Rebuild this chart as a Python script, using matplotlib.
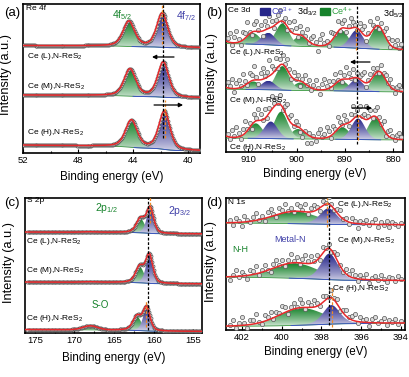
import numpy as np
import matplotlib
matplotlib.use("Agg")
import matplotlib.pyplot as plt
from matplotlib.colors import LinearSegmentedColormap
from matplotlib.patches import Polygon

plt.rcParams['font.family'] = ['Liberation Sans', 'DejaVu Sans']
plt.rcParams['mathtext.fontset'] = 'custom'
plt.rcParams['mathtext.rm'] = 'Liberation Sans'
plt.rcParams['mathtext.it'] = 'Liberation Sans:italic'

W, H = 410, 377
GREEN = '#17832c'
BLUE = '#26268a'
RED = '#e8282b'
ORANGE = '#f08a24'

samples = ["Ce (L),N-ReS$_2$", "Ce (M),N-ReS$_2$", "Ce (H),N-ReS$_2$"]

# ---- (a) Re 4f : intensities in arbitrary (pixel-like) units ----
re_c52 = [44.30, 44.22, 44.12]
re_c72 = [41.88, 41.80, 41.72]
re_h52 = [25, 27, 27]
re_h72 = [34, 35, 38]
re_bg_hi = [107.5, 58, 8]
re_bg_lo = [105, 55, 2]

# ---- (b) Ce 3d : peak centres / heights per sample, kind g=Ce4+, b=Ce3+ ----
ce_kind = ['g', 'b', 'g', 'g', 'g', 'b', 'g', 'g']
ce_centres = [[883.2, 887.6, 890.7, 899.2, 902.9, 905.8, 908.9, 916.8],
              [883.0, 887.6, 890.7, 899.2, 902.9, 905.8, 908.9, 916.8],
              [883.8, 887.3, 890.5, 899.7, 903.2, 905.3, 908.4, 916.8]]
ce_heights = [[23, 18, 17, 10, 22, 12, 11, 8],
              [20, 12, 10, 8, 24, 9, 8, 6],
              [22, 21, 12, 10, 27, 17, 15, 6]]
ce_bg_hi = [109, 63, 14]
ce_bg_lo = [102, 60, 12]
ce_noise = [
    [4, 9, -2, 6, 12, 3, -4, 8, 5, 14, 2, -3, 7, 10, 1, 6, -5, 9, 3, 12,
     6, -2, 4, 8, 11, 0, 5, -4, 7, 2, 13, 6, -3, 9, 4, 1, 10, -2, 5, 8,
     3, -6, 7, 12, 2, 4, -3, 9, 6, 1, 11, -1, 5, 8, -4, 3, 10, 6, 2, -2,
     7, 4, 9, -5, 3, 12, 5, 0, 8, -3, 6, 2, 10, 4, -2, 7, 3, 9, 1, 5],
    [6, 2, 10, -3, 5, 8, 1, 12, 4, -2, 9, 6, 14, 3, -4, 7, 11, 2, 5, 16,
     8, 3, 12, -1, 6, 9, 2, 10, 4, -3, 7, 1, 5, -5, 3, 8, 0, 6, -2, 4,
     9, 2, -4, 6, 11, 3, 7, -1, 5, 10, 2, 8, -3, 4, 12, 6, 1, 9, -2, 5,
     3, 7, 10, -4, 2, 6, 9, 1, 4, -2, 8, 3, 5, 0, 7, 2, -3, 4, 6, 1],
    [3, -2, 7, 1, 10, 4, -3, 6, 12, 2, 5, -4, 8, 3, 11, 6, 0, 9, -2, 5,
     14, 4, 7, 1, 10, -3, 6, 12, 3, 8, -1, 5, 2, -4, -7, 1, -9, 3, -6, 2,
     -3, 5, 9, 1, 4, 11, 6, -2, 8, 3, 12, 5, 0, 9, 4, -3, 7, 13, 2, 6,
     10, 1, 5, 14, 3, 8, -2, 6, 11, 4, 1, 9, -3, 5, 7, 2, -1, 4, 6, 2]]

# ---- (c) S 2p ----
s_c32 = [160.45, 160.55, 160.90]
s_c12 = [161.65, 161.75, 162.10]
s_h32 = [25, 28, 23]
s_h12 = [14, 16, 14]
s_so_h = [0.5, 0.5, 4]
s_bg_hi = [101, 51, 3.5]
s_bg_lo = [99, 49, 1.5]

# ---- (d) N 1s ----
n_c_mn = [397.65, 397.60, 397.50]
n_c_nh = [399.3, 399.3, 399.0]
n_h_mn = [16, 26, 19]
n_h_nh = [12, 15, 17]
n_bg_hi = [107, 53, 3.5]
n_bg_lo = [105, 49, 7]
n_noise = [
    [3, -2, 5, 1, -4, 6, 2, -1, 4, 7, 0, 3, -3, 5, 8, 2, -2, 6, 3, 9,
     1, 4, -1, 7, 5, 2, 8, -2, 4, 6, 3, -3, 5, 1, 7, 2, -1, 4, 6, 0,
     3, -2, 5, 2, -4, 3, 1, 4, -1, 2, 5, -3, 2, 0, 4, -2, 3, 1, -1, 2],
    [-3, 2, 6, -1, 4, 1, -4, 5, 3, 8, -2, 2, 6, 0, -3, 4, 7, 1, 5, -2,
     3, 9, 2, 6, -1, 4, 8, 3, 7, 1, 5, -3, 6, 2, 4, -2, 3, 6, 1, -1,
     5, 2, 7, 3, -2, 4, 1, 6, -3, 2, 4, 0, 5, 1, -2, 3, 2, -1, 4, 1],
    [1, 6, -2, 3, 8, 2, -3, 5, 4, 9, 1, -2, 6, 3, 7, -1, 4, 2, 8, 5,
     -3, 3, 6, 1, 9, 4, -2, 5, 2, 7, 3, -1, 6, 4, 1, 8, 2, 5, -2, 3,
     6, 1, 4, 7, -1, 5, 2, 3, -3, 4, 6, 0, 2, 5, -2, 3, 1, 4, -1, 2]]


def pv(x, c, h, w, eta):
    g = np.exp(-4 * np.log(2) * ((x - c) / w) ** 2)
    l = 1 / (1 + 4 * ((x - c) / w) ** 2)
    return h * (eta * l + (1 - eta) * g)


def background(x, total, lo, hi, mix=0.6):
    cum = np.cumsum(total)
    cum = cum / cum[-1]
    lin = (x - x[0]) / (x[-1] - x[0])
    return lo + (hi - lo) * (mix * cum + (1 - mix) * lin)


def grad_fill(ax, x, lo, hi, color):
    m = (hi - lo) > 0.05
    if m.sum() < 3:
        return
    xs, l, h = x[m], lo[m], hi[m]
    cmap = LinearSegmentedColormap.from_list('gf', ['#ffffff', color])
    poly = Polygon(np.column_stack([np.r_[xs, xs[::-1]], np.r_[h, l[::-1]]]),
                   closed=True, fc='none', ec='none')
    ax.add_patch(poly)
    grad = np.linspace(0.1, 1, 64).reshape(-1, 1) ** 0.7
    im = ax.imshow(grad, cmap=cmap, vmin=0, vmax=1, origin='lower', aspect='auto',
                   extent=[xs.min(), xs.max(), l.min(), h.max()], zorder=2,
                   interpolation='bilinear')
    im.set_clip_path(poly)


def spectrum(ax, x, comps, lo, hi, px, noise=None, ms=2.6):
    """comps: list of (centre, height, fwhm, eta, colour)"""
    parts = [pv(x, *c[:4]) for c in comps]
    total = np.sum(parts, axis=0)
    bg = background(x, total, lo, hi)
    for p, c in zip(parts, comps):
        grad_fill(ax, x, bg, bg + p, c[4])
    ax.plot(x, bg, color='#3a9a40', lw=0.6, zorder=3)
    for p, c in zip(parts, comps):
        if c[4] == BLUE:
            m = p > 0.02 * c[1]
            ax.plot(x[m], bg[m], color='#3a4ad0', lw=0.6, zorder=3)
    env = bg + total
    ypts = np.interp(px, x, env)
    if noise is not None:
        ypts = ypts + np.asarray(noise, float)
    ax.plot(px, ypts, 'o', ms=ms, mfc='#dcdcdc', mec='#555555', mew=0.5, zorder=4)
    ax.plot(x, env, color=RED, lw=1.1, zorder=5)


fig = plt.figure(figsize=(W / 100, H / 100), dpi=100)


def add_axes(l, t, r, b):
    return fig.add_axes([l / W, 1 - b / H, (r - l) / W, (b - t) / H])


def ftext(x, y, s, **kw):
    kw.setdefault('fontsize', 6)
    kw.setdefault('va', 'center')
    fig.text(x / W, 1 - y / H, s, **kw)


def style(ax, major, minor, ylab_x, xlab_y, ylab_y=0.5):
    ax.set_yticks([])
    ax.xaxis.set_major_locator(plt.MultipleLocator(major))
    ax.xaxis.set_minor_locator(plt.MultipleLocator(minor))
    ax.tick_params(axis='x', which='both', direction='in', labelsize=6.8, pad=2.5, width=0.8)
    ax.tick_params(axis='x', which='major', length=3)
    ax.tick_params(axis='x', which='minor', length=1.8)
    for s in ax.spines.values():
        s.set_linewidth(1.2)
    ax.set_xlabel('Binding energy (eV)', fontsize=8.4)
    ax.set_ylabel('Intensity (a.u.)', fontsize=9.2)
    ax.yaxis.set_label_coords(ylab_x, ylab_y)
    ax.xaxis.set_label_coords(0.5, xlab_y)
    ax.xaxis.label.set_va('center')


def vdash(ax, e, y0, y1, color):
    ax.plot([e, e], [y0, y1], color=color, lw=0.9, ls=(0, (2.2, 1.4)), zorder=6)


def arrow(ax, e0, e1, y):
    ax.annotate('', xy=(e1, y), xytext=(e0, y),
                arrowprops=dict(arrowstyle='-|>', color='k', lw=0.9,
                                mutation_scale=6, shrinkA=0, shrinkB=0), zorder=7)


# ---------------- (a) ----------------
axa = add_axes(23, 4, 200, 153)
xa = np.linspace(38.5, 52.5, 900)
pa = np.arange(39.05, 52.0, 0.07)
for i in range(3):
    comps = [(re_c52[i], re_h52[i], 1.0, 0.45, GREEN),
             (re_c72[i], re_h72[i], 0.95, 0.45, BLUE)]
    spectrum(axa, xa, comps, re_bg_lo[i], re_bg_hi[i], pa, ms=2.2)
vdash(axa, 41.82, 15, 151, 'k')
vdash(axa, 41.89, 109, 151, ORANGE)
vdash(axa, 41.71, 15, 53, ORANGE)
arrow(axa, 41.02, 42.62, 96)
arrow(axa, 42.47, 40.36, 48)
axa.set_xlim(52.0, 39.13)
axa.set_ylim(0, 149)
style(axa, 4, 2, -0.063, -0.16, 0.53)

# ---------------- (b) ----------------
axb = add_axes(226, 4, 403, 152)
xb = np.linspace(877, 920, 900)
for i in range(3):
    comps = [(c, h, 3.3, 0.15, GREEN if k == 'g' else BLUE)
             for c, h, k in zip(ce_centres[i], ce_heights[i], ce_kind)]
    comps.sort(key=lambda c: c[4] == BLUE)
    pb = np.linspace(914.2, 878.4, len(ce_noise[i]))
    spectrum(axb, xb, comps, ce_bg_lo[i], ce_bg_hi[i], pb, ce_noise[i], ms=3)
vdash(axb, 887.6, 8, 148, 'k')
vdash(axb, 887.7, 102, 125, ORANGE)
vdash(axb, 887.3, 12, 37, ORANGE)
arrow(axb, 884.85, 888.97, 90)
arrow(axb, 888.56, 884.43, 44)
axb.set_xlim(914.54, 878.04)
axb.set_ylim(0, 148)
style(axb, 10, 5, -0.045, -0.15, 0.53)

# ---------------- (c) ----------------
axc = add_axes(25, 198, 202, 333)
xc = np.linspace(152, 178, 900)
pc = np.arange(154.1, 176.1, 0.1)
for i in range(3):
    comps = [(168.0, s_so_h[i], 2.2, 0.0, GREEN),
             (s_c12[i], s_h12[i], 1.25, 0.4, GREEN),
             (s_c32[i], s_h32[i], 1.05, 0.4, BLUE)]
    spectrum(axc, xc, comps, s_bg_lo[i], s_bg_hi[i], pc, ms=2.2)
vdash(axc, 160.7, 3, 138, 'k')
vdash(axc, 160.5, 110, 138, ORANGE)
vdash(axc, 160.95, 6, 33, ORANGE)
axc.set_xlim(176.25, 153.9)
axc.set_ylim(0, 135)
style(axc, 5, 2.5, -0.056, -0.185, 0.52)

# ---------------- (d) ----------------
axd = add_axes(226, 198, 405, 330)
xd = np.linspace(392, 404, 900)
for i in range(3):
    comps = [(n_c_nh[i], n_h_nh[i], 2.7, 0.1, GREEN),
             (n_c_mn[i], n_h_mn[i], 1.0, 0.35, BLUE)]
    pd_ = np.linspace(402.6, 394.0, len(n_noise[i]))
    spectrum(axd, xd, comps, n_bg_lo[i], n_bg_hi[i], pd_, n_noise[i], ms=3)
vdash(axd, 397.63, 5, 127, 'k')
vdash(axd, 397.7, 103, 132, ORANGE)
vdash(axd, 397.47, 3, 43, ORANGE)
axd.set_xlim(402.8, 393.8)
axd.set_ylim(0, 132)
style(axd, 2, 1, -0.05, -0.17, 0.52)

# ---------------- texts ----------------
ftext(4, 13, '(a)', fontsize=9.5)
ftext(206, 13, '(b)', fontsize=9.5)
ftext(4, 203, '(c)', fontsize=9.5)
ftext(206, 203, '(d)', fontsize=9.5)

ftext(26, 9, 'Re 4f', fontsize=6)
ftext(228, 10, 'Ce 3d', fontsize=6)
ftext(27, 201, 'S 2p', fontsize=6)
ftext(228, 202, 'N 1s', fontsize=6)

for y, s in zip([56, 86, 132], samples):
    ftext(27, y, s)
for y, s in zip([53, 100, 147], samples):
    ftext(229, y, s)
for y, s in zip([242, 270, 318], samples):
    ftext(26, y, s)
for (x, y), s in zip([(337, 205), (337, 240), (332, 288)], samples):
    ftext(x, y, s)

ftext(112, 15, '4f$_{5/2}$', fontsize=7.5, color=GREEN)
ftext(176, 16, '4f$_{7/2}$', fontsize=7.5, color='#4040a8')
ftext(95, 208, '2p$_{1/2}$', fontsize=7.5, color=GREEN)
ftext(168, 211, '2p$_{3/2}$', fontsize=7.5, color='#4040a8')
ftext(92, 305, 'S-O', fontsize=7, color=GREEN)
ftext(274, 240, 'Metal-N', fontsize=6.5, color='#4040a8')
ftext(232, 250, 'N-H', fontsize=6.5, color=GREEN)

# (b) legend
fig.patches.append(plt.Rectangle((260 / W, 1 - 15 / H), 10 / W, 7 / H,
                                 transform=fig.transFigure, color=BLUE, figure=fig))
ftext(271, 11, 'Ce$^{3+}$', fontsize=6.5, color='#4040c0')
ftext(297, 12, '3d$_{3/2}$', fontsize=6.5)
fig.patches.append(plt.Rectangle((320 / W, 1 - 15 / H), 10 / W, 7 / H,
                                 transform=fig.transFigure, color=GREEN, figure=fig))
ftext(331, 11, 'Ce$^{4+}$', fontsize=6.5, color='#2ea040')
ftext(383, 14, '3d$_{5/2}$', fontsize=6.5)

fig.savefig('out.png', dpi=100)
